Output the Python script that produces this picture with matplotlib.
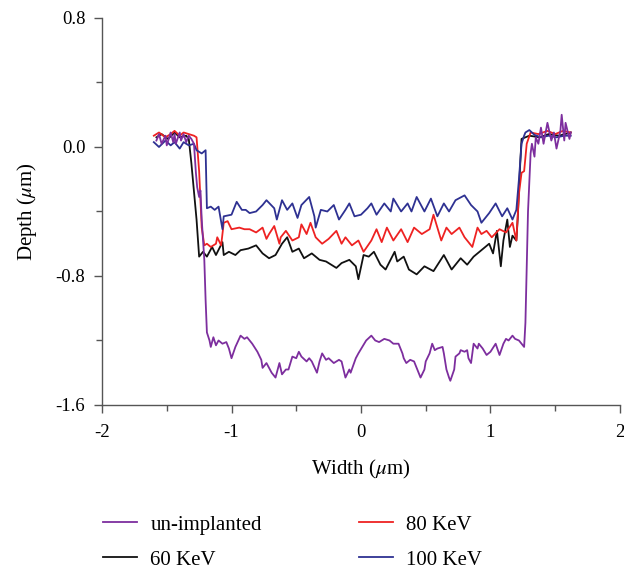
import matplotlib
matplotlib.use("Agg")
import matplotlib.pyplot as plt
from matplotlib.ticker import MultipleLocator, FormatStrFormatter

plt.rcParams["font.family"] = ["Liberation Serif", "DejaVu Serif"]
plt.rcParams["mathtext.fontset"] = "stix"
plt.rcParams["axes.unicode_minus"] = False

# profile data (width in um, depth in um)
x_60 = [-1.58, -1.54, -1.49, -1.44, -1.40, -1.35, -1.33, -1.31,
        -1.27, -1.25, -1.22, -1.19, -1.15, -1.12, -1.07, -1.06,
        -1.02, -0.97, -0.93, -0.87, -0.81, -0.76, -0.71, -0.66,
        -0.61, -0.57, -0.53, -0.48, -0.44, -0.38, -0.32, -0.27,
        -0.19, -0.15, -0.09, -0.04, -0.02, 0.02, 0.06, 0.10,
        0.15, 0.19, 0.26, 0.28, 0.33, 0.37, 0.43, 0.49,
        0.56, 0.64, 0.70, 0.77, 0.82, 0.87, 0.93, 0.99,
        1.02, 1.05, 1.08, 1.10, 1.13, 1.15, 1.17, 1.20,
        1.21, 1.23, 1.24, 1.30, 1.38, 1.45, 1.53, 1.62]
y_60 = [0.06, 0.08, 0.05, 0.09, 0.06, 0.07, 0.05, -0.10,
        -0.45, -0.68, -0.65, -0.68, -0.62, -0.67, -0.59, -0.67,
        -0.65, -0.67, -0.64, -0.63, -0.61, -0.66, -0.69, -0.67,
        -0.60, -0.56, -0.65, -0.63, -0.69, -0.66, -0.70, -0.71,
        -0.75, -0.72, -0.70, -0.74, -0.82, -0.67, -0.68, -0.65,
        -0.73, -0.76, -0.65, -0.71, -0.68, -0.76, -0.79, -0.74,
        -0.77, -0.67, -0.76, -0.69, -0.73, -0.68, -0.64, -0.60,
        -0.66, -0.52, -0.74, -0.58, -0.45, -0.62, -0.55, -0.58,
        -0.45, -0.10, 0.05, 0.07, 0.06, 0.08, 0.07, 0.09]

x_80 = [-1.60, -1.56, -1.51, -1.47, -1.44, -1.40, -1.37, -1.33,
        -1.29, -1.27, -1.25, -1.23, -1.21, -1.19, -1.16, -1.12,
        -1.11, -1.08, -1.06, -1.03, -1.00, -0.94, -0.90, -0.86,
        -0.81, -0.76, -0.73, -0.71, -0.67, -0.63, -0.62, -0.58,
        -0.53, -0.48, -0.46, -0.42, -0.39, -0.35, -0.30, -0.25,
        -0.19, -0.15, -0.12, -0.07, -0.02, 0.02, 0.08, 0.12,
        0.16, 0.20, 0.25, 0.31, 0.36, 0.41, 0.47, 0.53,
        0.56, 0.62, 0.66, 0.70, 0.76, 0.80, 0.86, 0.90,
        0.93, 0.97, 1.01, 1.07, 1.12, 1.17, 1.20, 1.22,
        1.24, 1.26, 1.28, 1.31, 1.37, 1.44, 1.50, 1.56,
        1.62]
y_80 = [0.07, 0.09, 0.06, 0.08, 0.10, 0.07, 0.09, 0.08,
        0.07, 0.06, -0.15, -0.50, -0.61, -0.60, -0.62, -0.60,
        -0.56, -0.61, -0.47, -0.46, -0.51, -0.50, -0.51, -0.51,
        -0.53, -0.50, -0.57, -0.54, -0.49, -0.60, -0.56, -0.52,
        -0.58, -0.56, -0.48, -0.54, -0.47, -0.56, -0.60, -0.57,
        -0.52, -0.60, -0.56, -0.61, -0.58, -0.65, -0.58, -0.51,
        -0.59, -0.50, -0.58, -0.51, -0.59, -0.50, -0.54, -0.51,
        -0.42, -0.58, -0.50, -0.54, -0.50, -0.56, -0.62, -0.50,
        -0.54, -0.52, -0.56, -0.51, -0.53, -0.47, -0.58, -0.29,
        -0.16, -0.15, 0.02, 0.09, 0.08, 0.10, 0.08, 0.10,
        0.09]

x_100 = [-1.60, -1.56, -1.51, -1.47, -1.44, -1.40, -1.37, -1.33,
         -1.29, -1.27, -1.23, -1.20, -1.19, -1.16, -1.13, -1.10,
         -1.07, -1.06, -1.00, -0.96, -0.92, -0.89, -0.86, -0.81,
         -0.76, -0.73, -0.67, -0.65, -0.61, -0.57, -0.53, -0.49,
         -0.46, -0.40, -0.36, -0.35, -0.31, -0.26, -0.21, -0.17,
         -0.12, -0.09, -0.05, 0.00, 0.05, 0.08, 0.12, 0.18,
         0.23, 0.25, 0.31, 0.36, 0.39, 0.43, 0.49, 0.54,
         0.59, 0.64, 0.68, 0.73, 0.80, 0.85, 0.90, 0.93,
         0.99, 1.04, 1.09, 1.13, 1.17, 1.20, 1.22, 1.24,
         1.26, 1.27, 1.30, 1.34, 1.39, 1.45, 1.51, 1.57,
         1.62]
y_100 = [0.03, 0.00, 0.04, 0.01, 0.03, -0.01, 0.03, 0.01,
         0.02, -0.02, -0.04, -0.02, -0.38, -0.37, -0.39, -0.37,
         -0.51, -0.43, -0.42, -0.34, -0.39, -0.39, -0.41, -0.40,
         -0.36, -0.33, -0.38, -0.45, -0.33, -0.39, -0.35, -0.44,
         -0.36, -0.31, -0.43, -0.50, -0.39, -0.40, -0.36, -0.45,
         -0.39, -0.35, -0.43, -0.42, -0.38, -0.35, -0.42, -0.35,
         -0.40, -0.32, -0.40, -0.35, -0.40, -0.31, -0.40, -0.32,
         -0.43, -0.35, -0.40, -0.33, -0.30, -0.36, -0.40, -0.47,
         -0.41, -0.35, -0.43, -0.38, -0.45, -0.39, -0.20, 0.02,
         0.07, 0.09, 0.105, 0.075, 0.06, 0.07, 0.06, 0.07,
         0.07]

x_un = [-1.58, -1.56, -1.54, -1.51, -1.50, -1.47, -1.45, -1.44,
        -1.43, -1.40, -1.39, -1.37, -1.35, -1.33, -1.31, -1.29,
        -1.275, -1.265, -1.25, -1.24, -1.23, -1.21, -1.20, -1.19,
        -1.17, -1.16, -1.14, -1.12, -1.10, -1.07, -1.04, -1.02,
        -1.00, -0.97, -0.93, -0.90, -0.88, -0.84, -0.80, -0.77,
        -0.76, -0.73, -0.69, -0.66, -0.63, -0.61, -0.58, -0.56,
        -0.53, -0.50, -0.48, -0.46, -0.42, -0.40, -0.38, -0.34,
        -0.32, -0.30, -0.27, -0.25, -0.21, -0.17, -0.15, -0.12,
        -0.09, -0.08, -0.04, -0.02, 0.01, 0.04, 0.08, 0.11,
        0.14, 0.18, 0.22, 0.25, 0.29, 0.32, 0.33, 0.35,
        0.38, 0.41, 0.43, 0.46, 0.49, 0.50, 0.53, 0.55,
        0.57, 0.59, 0.63, 0.64, 0.66, 0.68, 0.69, 0.72,
        0.73, 0.76, 0.77, 0.80, 0.82, 0.83, 0.85, 0.87,
        0.90, 0.91, 0.94, 0.97, 1.00, 1.04, 1.07, 1.10,
        1.12, 1.14, 1.17, 1.19, 1.22, 1.24, 1.26, 1.27,
        1.29, 1.31, 1.32, 1.34, 1.35, 1.37, 1.39, 1.41,
        1.44, 1.47, 1.49, 1.51, 1.54, 1.55, 1.57, 1.58,
        1.61, 1.62]
y_un = [0.04, 0.08, 0.02, 0.07, 0.01, 0.09, 0.03, 0.08,
        0.02, 0.09, 0.04, 0.08, 0.03, 0.07, 0.05, 0.02,
        -0.16, -0.25, -0.31, -0.27, -0.45, -0.70, -0.95, -1.15,
        -1.20, -1.24, -1.18, -1.23, -1.20, -1.22, -1.21, -1.25,
        -1.31, -1.24, -1.17, -1.19, -1.18, -1.22, -1.27, -1.32,
        -1.37, -1.34, -1.40, -1.43, -1.34, -1.41, -1.38, -1.38,
        -1.30, -1.31, -1.27, -1.30, -1.33, -1.31, -1.33, -1.40,
        -1.33, -1.28, -1.32, -1.31, -1.34, -1.32, -1.33, -1.43,
        -1.38, -1.40, -1.31, -1.28, -1.24, -1.20, -1.17, -1.20,
        -1.21, -1.19, -1.20, -1.22, -1.22, -1.28, -1.31, -1.34,
        -1.32, -1.33, -1.37, -1.43, -1.38, -1.33, -1.28, -1.22,
        -1.26, -1.25, -1.24, -1.28, -1.38, -1.43, -1.45, -1.38,
        -1.30, -1.28, -1.26, -1.27, -1.26, -1.31, -1.34, -1.22,
        -1.25, -1.22, -1.25, -1.29, -1.27, -1.22, -1.29, -1.22,
        -1.19, -1.20, -1.17, -1.19, -1.20, -1.22, -1.24, -1.09,
        -0.40, -0.04, 0.02, -0.06, 0.06, 0.02, 0.12, 0.02,
        0.15, 0.04, 0.09, -0.01, 0.10, 0.20, 0.04, 0.15,
        0.05, 0.09]

labels = ["un-implanted", "60 KeV", "80 KeV", "100 KeV"]
colors = ["#7D2E9E", "#111111", "#EE2222", "#2E3192"]

fig = plt.figure(figsize=(6.24, 5.75), dpi=100)
ax = fig.add_axes([0.1635, 0.2957, 0.830, 0.673])

lw = 1.3
h60, = ax.plot(x_60, y_60, color=colors[1], lw=lw, label=labels[1])
h80, = ax.plot(x_80, y_80, color=colors[2], lw=lw, label=labels[2])
h100, = ax.plot(x_100, y_100, color=colors[3], lw=lw, label=labels[3])
hun, = ax.plot(x_un, y_un, color=colors[0], lw=lw, label=labels[0])

ax.set_xlim(-2, 2)
ax.set_ylim(-1.6, 0.8)
ax.xaxis.set_major_locator(MultipleLocator(1))
ax.xaxis.set_minor_locator(MultipleLocator(0.5))
ax.yaxis.set_major_locator(MultipleLocator(0.8))
ax.yaxis.set_minor_locator(MultipleLocator(0.4))
ax.yaxis.set_major_formatter(FormatStrFormatter("%.1f"))

for side in ("top", "right"):
    ax.spines[side].set_visible(False)
for side in ("left", "bottom"):
    ax.spines[side].set_color("#555555")
    ax.spines[side].set_linewidth(1.0)
ax.tick_params(which="major", direction="out", length=6, width=1.0,
               color="#555555", labelsize=13.5)
ax.tick_params(axis="x", which="major", pad=8)
ax.tick_params(axis="y", which="major", pad=6)
ax.tick_params(which="minor", direction="out", length=4, width=1.0,
               color="#555555")

ax.set_xlabel(r"Width ($\mu$m)", fontsize=15, labelpad=12)
ax.set_ylabel(r"Depth ($\mu$m)", fontsize=15, labelpad=12)

fig.legend(handles=[hun, h60, h80, h100], loc="upper left",
           bbox_to_anchor=(0.135, 0.137), ncol=2, frameon=False,
           fontsize=15, handlelength=1.65, handletextpad=0.62,
           columnspacing=4.65, labelspacing=0.75,
           bbox_transform=fig.transFigure)

fig.savefig("out.png", dpi=100)
